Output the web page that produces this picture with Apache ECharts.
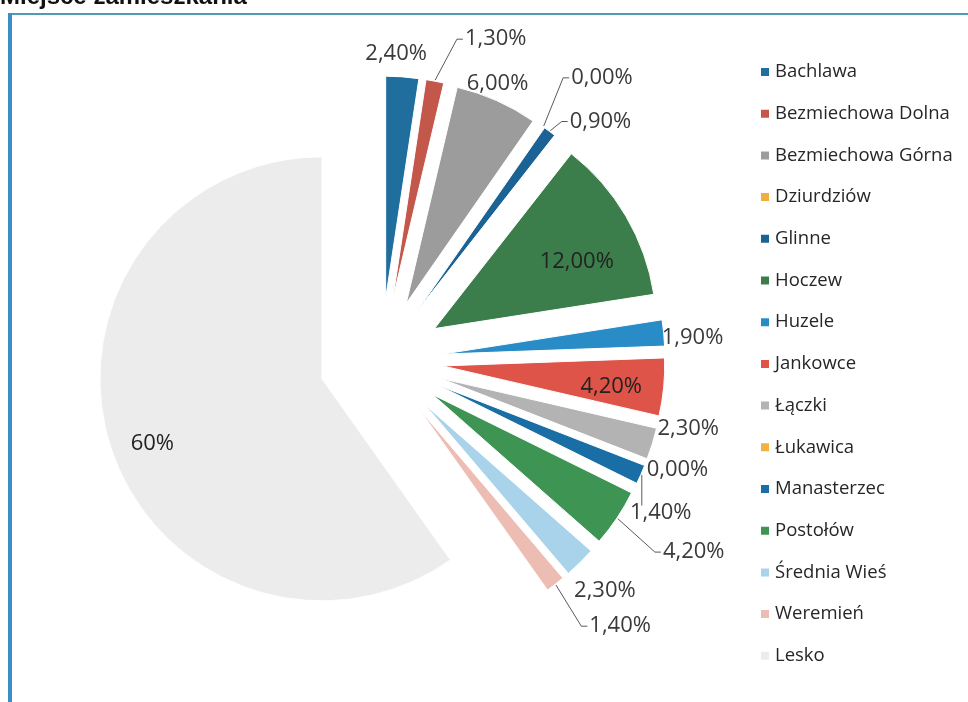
<!DOCTYPE html>
<html>
<head>
<meta charset="utf-8">
<script src="https://cdn.jsdelivr.net/npm/echarts@6/dist/echarts.min.js"></script>
<style>
  html, body { margin: 0; padding: 0; background: #ffffff; }
  #chart { width: 968px; height: 702px; }
</style>
</head>
<body>
<div id="chart"></div>
<script>
// ---- data ----
const categories = ['Bachlawa', 'Bezmiechowa Dolna', 'Bezmiechowa Górna', 'Dziurdziów', 'Glinne', 'Hoczew', 'Huzele', 'Jankowce', 'Łączki', 'Łukawica', 'Manasterzec', 'Postołów', 'Średnia Wieś', 'Weremień', 'Lesko'];
const values = [2.4, 1.3, 6.0, 0.0, 0.9, 12.0, 1.9, 4.2, 2.3, 0.0, 1.4, 4.2, 2.3, 1.4, 60];
const labelDecimals = [2, 2, 2, 2, 2, 2, 2, 2, 2, 2, 2, 2, 2, 2, 0];

// ---- style ----
const colors = ['#1f6e9e', '#c2574a', '#9c9c9c', '#f0b040', '#1b6394', '#3b7e4b', '#2a8cc6', '#df5449', '#b3b3b3', '#f2b243', '#1a6ea6', '#3e9452', '#a9d3ea', '#edbcb3', '#ececec'];
const labelPos = ['outside', 'outside', 'outside', 'outside', 'outside', 'inside', 'outside', 'inside', 'outside', 'outside', 'outside', 'outside', 'outside', 'outside', 'inside'];
const lineShow = [false, true, false, true, true, false, false, false, false, false, true, true, false, true, false];
// label nudges (dx, dy) relative to the default label placement of an exploded slice
const nudges = [[-42, -23], [25, -42], [-35, -17], [23, -49], [15, -10], [44, -9], [-7, 5], [55, 10], [0, -15], [-4, 7], [-16, 38], [41, 34], [-11, 28], [29, 42], [-61, 30]];

const pieCenter = [381, 360];
const pieRadius = 222;
const explode = 62;

const chart = echarts.init(document.getElementById('chart'), null, { renderer: 'canvas' });

function fmt(p) {
  return p.value.toFixed(labelDecimals[p.dataIndex]).replace('.', ',') + '%';
}

const option = {
  backgroundColor: '#ffffff',
  animation: false,
  title: {
    text: 'Miejsce zamieszkania',
    left: 0,
    top: -15,
    padding: 0,
    textStyle: { fontFamily: 'Liberation Sans', fontWeight: 'bold', fontSize: 24, color: '#111' }
  },
  graphic: [
    { type: 'line', shape: { x1: 10, y1: 14, x2: 968, y2: 14 }, style: { stroke: '#4f9bb3', lineWidth: 2 }, silent: true },
    { type: 'line', shape: { x1: 10, y1: 13, x2: 10, y2: 702 }, style: { stroke: '#3c8ec6', lineWidth: 4 }, silent: true }
  ],
  legend: {
    orient: 'vertical',
    left: 754,
    top: 57,
    icon: 'rect',
    itemWidth: 10,
    itemHeight: 10,
    itemGap: 21.7,
    selectedMode: false,
    data: categories,
    textStyle: { fontFamily: 'Open Sans', fontSize: 18.5, color: '#262626', lineHeight: 20 }
  },
  series: [
    {
      // visible exploded slices
      type: 'pie',
      center: pieCenter,
      radius: pieRadius,
      startAngle: 90,
      clockwise: true,
      selectedMode: 'multiple',
      selectedOffset: explode,
      emphasis: { disabled: true },
      itemStyle: { borderColor: '#ffffff', borderWidth: 1 },
      select: { itemStyle: { borderColor: '#ffffff', borderWidth: 1 } },
      label: { show: false },
      labelLine: { show: false },
      data: categories.map(function (n, i) {
        return { name: n, value: values[i], selected: true, itemStyle: { color: colors[i] } };
      })
    },
    {
      // label carrier (same data, transparent sectors)
      type: 'pie',
      center: pieCenter,
      radius: pieRadius,
      startAngle: 90,
      clockwise: true,
      silent: true,
      avoidLabelOverlap: false,
      emphasis: { disabled: true },
      itemStyle: { color: 'rgba(0,0,0,0)', borderWidth: 0 },
      label: {
        fontFamily: 'Open Sans',
        fontSize: 22,
        color: '#3a3a3a',
        formatter: fmt
      },
      labelLine: { length: 0, length2: 0, lineStyle: { color: '#5a5a5a', width: 1 } },
      data: categories.map(function (n, i) {
        return {
          name: n,
          value: values[i],
          label: { position: labelPos[i], color: labelPos[i] === 'inside' ? '#222222' : '#3a3a3a' },
          labelLine: { show: lineShow[i] }
        };
      }),
      labelLayout: function (p) {
        const i = p.dataIndex;
        const n = nudges[i];
        const r = p.labelRect;
        const inside = labelPos[i] === 'inside';
        const ax = inside ? r.x + r.width / 2 : r.x - 5;
        const ay = r.y + r.height / 2;
        let ux = ax - pieCenter[0], uy = ay - pieCenter[1];
        const len = Math.hypot(ux, uy) || 1;
        ux /= len; uy /= len;
        const ex = ax + explode * ux, ey = ay + explode * uy;
        if (inside) {
          return { x: ex + n[0], y: ey + n[1], align: 'center', verticalAlign: 'middle' };
        }
        const lx = ex + 5 + n[0], ly = ey + n[1];
        const out = { x: lx, y: ly, align: 'left', verticalAlign: 'middle' };
        if (lineShow[i]) {
          const sx = ex + ux, sy = ey + uy;
          if (lx - 8 > sx) {
            out.labelLinePoints = [[sx, sy], [lx - 8, ly], [lx - 2, ly]];
          } else {
            out.labelLinePoints = [[sx, sy], [sx, sy + 2], [sx, ly - r.height / 2 + 4]];
          }
        }
        return out;
      }
    }
  ]
};
chart.setOption(option);
</script>
</body>
</html>
